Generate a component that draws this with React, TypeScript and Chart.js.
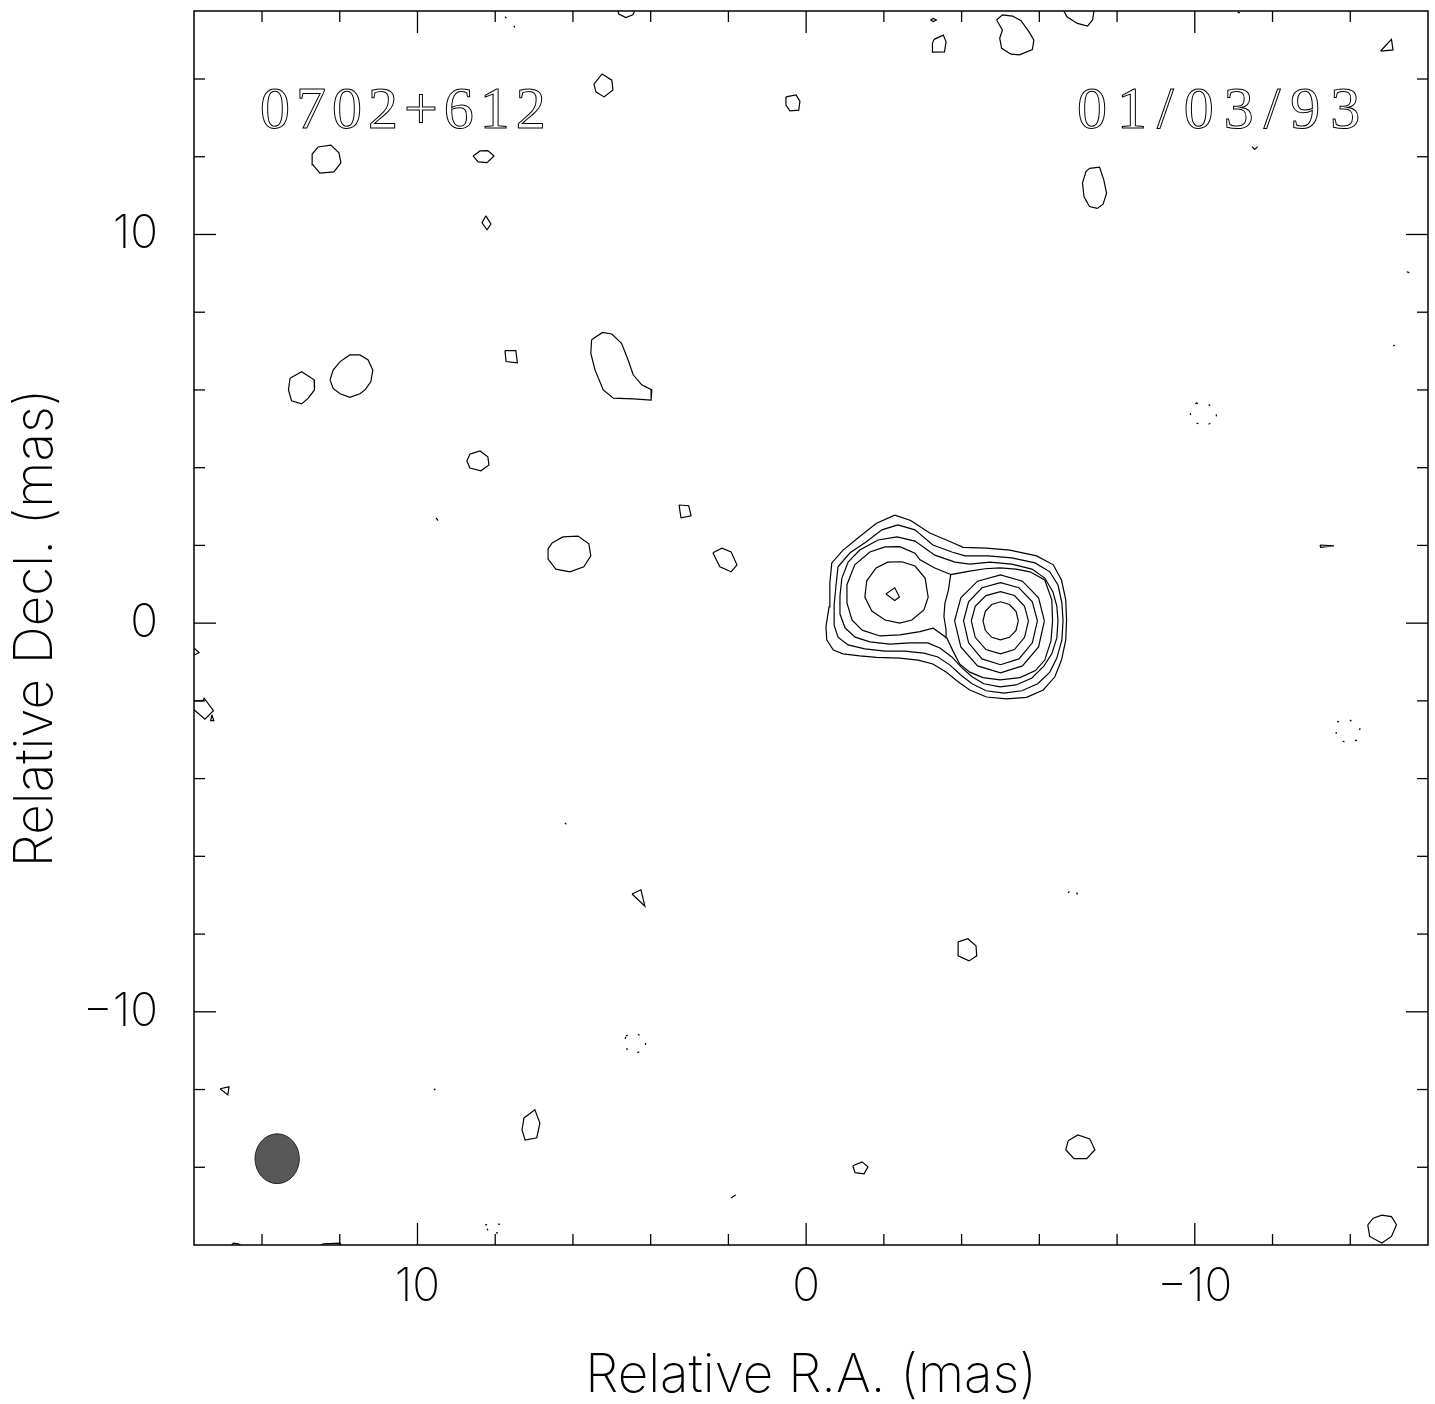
import React, { useEffect, useRef } from 'react';
import { Chart, registerables } from 'chart.js';

Chart.register(...registerables);

type P = [number, number];

// ---------- axes ----------
const X_MIN = -16;
const X_MAX = 15.75;
const Y_MIN = -16;
const Y_MAX = 15.75;
const MAJOR_TICKS = [-10, 0, 10];
const MINOR_TICKS = [-14, -12, -8, -6, -4, -2, 2, 4, 6, 8, 12, 14];

// ---------- texts ----------
const SOURCE_NAME = '0702+612';
const EPOCH = '01/03/93';
const X_TITLE = 'Relative R.A. (mas)';
const Y_TITLE = 'Relative Decl. (mas)';

// ---------- restoring beam (mas) ----------
const BEAM_CENTER: P = [13.61, -13.78];
const BEAM_SEMI_AXES: P = [0.57, 0.64];

// ---------- main source contours (mas) ----------
const CORE_L1: P[] = [[-2.28,2.78],[-2.69,2.64],[-3.18,2.32],[-3.70,2.10],[-4.04,1.95],[-4.64,1.93],[-5.24,1.88],[-5.93,1.73],[-6.36,1.50],[-6.57,1.11],[-6.68,0.60],[-6.70,0.08],[-6.68,-0.43],[-6.57,-0.95],[-6.40,-1.38],[-6.10,-1.72],[-5.67,-1.91],[-5.16,-1.95],[-4.64,-1.90],[-4.21,-1.72],[-3.91,-1.51],[-3.60,-1.26],[-3.26,-1.05],[-2.88,-0.95],[-2.41,-0.90],[-1.81,-0.88],[-1.38,-0.84],[-0.95,-0.79],[-0.70,-0.69],[-0.53,-0.43],[-0.51,-0.09],[-0.59,0.42],[-0.61,1.03],[-0.66,1.55],[-0.95,1.88],[-1.38,2.23],[-1.81,2.57]];
const CORE_L2: P[] = [[-2.36,2.53],[-2.80,2.40],[-3.26,2.01],[-3.75,1.83],[-4.09,1.73],[-4.68,1.73],[-5.29,1.68],[-5.89,1.55],[-6.27,1.32],[-6.48,0.98],[-6.58,0.52],[-6.61,0.06],[-6.58,-0.43],[-6.45,-0.90],[-6.27,-1.26],[-5.96,-1.56],[-5.55,-1.74],[-5.09,-1.80],[-4.63,-1.74],[-4.27,-1.56],[-4.01,-1.36],[-3.70,-1.08],[-3.39,-0.87],[-3.03,-0.77],[-2.54,-0.72],[-2.03,-0.72],[-1.51,-0.66],[-1.08,-0.56],[-0.82,-0.36],[-0.72,-0.05],[-0.72,0.47],[-0.77,0.98],[-0.82,1.45],[-1.13,1.81],[-1.54,2.09],[-1.95,2.40]];
const CORE_L3: P[] = [[-2.34,2.22],[-2.80,2.11],[-3.31,1.75],[-3.83,1.57],[-4.21,1.52],[-4.73,1.57],[-5.29,1.52],[-5.81,1.39],[-6.14,1.16],[-6.35,0.80],[-6.45,0.44],[-6.48,0.06],[-6.45,-0.38],[-6.32,-0.79],[-6.12,-1.10],[-5.81,-1.41],[-5.40,-1.59],[-4.99,-1.64],[-4.57,-1.56],[-4.27,-1.38],[-4.01,-1.15],[-3.75,-0.87],[-3.44,-0.64],[-3.13,-0.51],[-2.67,-0.51],[-2.16,-0.54],[-1.64,-0.48],[-1.26,-0.36],[-1.00,-0.12],[-0.87,0.24],[-0.87,0.70],[-0.92,1.16],[-1.08,1.57],[-1.38,1.88],[-1.85,2.14]];
// level 4: figure-eight through the saddle between the two components
const CORE_L4: P[] = [[-3.62,-0.38],[-3.60,-0.17],[-3.545,0.17],[-3.57,0.51],[-3.66,0.85],[-3.72,1.25],[-4.21,1.34],[-4.60,1.40],[-4.99,1.42],[-5.40,1.39],[-5.76,1.32],[-6.14,1.11],[-6.32,0.60],[-6.34,0.06],[-6.30,-0.45],[-6.14,-0.95],[-5.90,-1.22],[-5.50,-1.40],[-4.99,-1.46],[-4.55,-1.40],[-4.21,-1.26],[-3.95,-1.05],[-3.78,-0.72],[-3.62,-0.38],[-3.27,-0.13],[-2.93,-0.22],[-2.41,-0.30],[-1.90,-0.33],[-1.44,-0.18],[-1.18,0.08],[-1.05,0.52],[-1.05,0.99],[-1.25,1.50],[-1.64,1.83],[-2.03,1.96],[-2.41,1.97],[-2.80,1.80],[-2.93,1.63],[-3.31,1.42],[-3.72,1.25]];
const LEFT_L5: P[] = [[-2.46,1.58],[-2.80,1.47],[-3.06,1.16],[-3.14,0.67],[-3.03,0.34],[-2.72,0.08],[-2.41,0.00],[-2.03,0.08],[-1.69,0.31],[-1.51,0.67],[-1.56,1.09],[-1.80,1.42],[-2.10,1.57]];
const LEFT_L6: P[] = [[-2.05,0.75],[-2.28,0.91],[-2.40,0.67],[-2.28,0.58]];
const RIGHT_L5: P[] = [[-6.13,0.06],[-5.98,0.65],[-5.565,1.08],[-5.00,1.24],[-4.41,1.08],[-3.98,0.65],[-3.82,0.06],[-3.98,-0.61],[-4.41,-1.10],[-5.00,-1.28],[-5.565,-1.10],[-5.98,-0.61]];
const RIGHT_L6: P[] = [[-5.95,0.06],[-5.82,0.55],[-5.475,0.91],[-5.00,1.04],[-4.525,0.91],[-4.18,0.55],[-4.05,0.06],[-4.18,-0.505],[-4.525,-0.92],[-5.00,-1.07],[-5.475,-0.92],[-5.82,-0.505]];
const RIGHT_L7: P[] = [[-5.72,0.06],[-5.62,0.435],[-5.36,0.71],[-5.00,0.81],[-4.625,0.71],[-4.35,0.435],[-4.25,0.06],[-4.35,-0.365],[-4.625,-0.68],[-5.00,-0.79],[-5.36,-0.68],[-5.62,-0.365]];
const RIGHT_L8: P[] = [[-5.46,0.06],[-5.40,0.305],[-5.23,0.48],[-5.00,0.55],[-4.775,0.48],[-4.61,0.305],[-4.55,0.06],[-4.61,-0.185],[-4.775,-0.365],[-5.00,-0.43],[-5.23,-0.365],[-5.40,-0.185]];

// ---------- positive noise islands (mas) ----------
const ISLAND_01: P[] = [[-3.29,15.02],[-3.53,15.13],[-3.60,14.96],[-3.56,14.70],[-3.26,14.69],[-3.25,14.92]];
const ISLAND_02: P[] = [[-4.90,15.52],[-5.05,15.65],[-5.31,15.62],[-5.53,15.50],[-5.73,15.22],[-5.86,15.00],[-5.82,14.76],[-5.49,14.62],[-5.27,14.64],[-5.03,14.79],[-4.98,15.05],[-5.05,15.26]];
const ISLAND_03: P[] = [[-3.20,15.52],[-3.27,15.56],[-3.35,15.52],[-3.27,15.48]];
const ISLAND_04: P[] = [[-14.78,14.72],[-15.06,15.02],[-15.10,14.75]];
const ISLAND_05: P[] = [[5.46,13.87],[5.25,14.13],[5.00,13.97],[4.97,13.72],[5.20,13.54],[5.41,13.67]];
const ISLAND_06: P[] = [[0.52,13.54],[0.26,13.59],[0.16,13.43],[0.19,13.20],[0.42,13.18],[0.52,13.33]];
const ISLAND_07: P[] = [[12.56,12.25],[12.23,12.30],[12.02,12.10],[11.97,11.84],[12.15,11.61],[12.51,11.58],[12.69,11.79],[12.71,12.07]];
const ISLAND_08: P[] = [[8.57,12.02],[8.39,12.15],[8.19,12.16],[8.03,12.02],[8.21,11.85],[8.44,11.87]];
const ISLAND_09: P[] = [[8.24,10.48],[8.11,10.27],[8.21,10.12],[8.34,10.30]];
const ISLAND_10: P[] = [[-7.29,11.70],[-7.55,11.73],[-7.66,11.40],[-7.73,11.06],[-7.64,10.78],[-7.49,10.67],[-7.29,10.72],[-7.15,10.97],[-7.11,11.32],[-7.20,11.62]];
const ISLAND_11: P[] = [[5.52,7.29],[5.24,7.48],[5.00,7.44],[4.75,7.20],[4.58,6.77],[4.45,6.39],[4.23,6.13],[3.97,6.00],[3.99,5.74],[4.45,5.77],[4.96,5.79],[5.22,6.00],[5.43,6.51],[5.54,6.94]];
const ISLAND_12: P[] = [[7.75,7.01],[7.47,7.01],[7.43,6.70],[7.72,6.73]];
const ISLAND_13: P[] = [[12.25,6.26],[12.17,6.51],[11.99,6.73],[11.74,6.90],[11.48,6.90],[11.27,6.77],[11.15,6.51],[11.20,6.21],[11.35,6.00],[11.48,5.90],[11.74,5.81],[11.99,5.90],[12.17,6.04]];
const ISLAND_14: P[] = [[13.28,6.30],[12.98,6.47],[12.66,6.26],[12.65,6.00],[12.81,5.79],[12.98,5.64],[13.24,5.72],[13.32,6.00]];
const ISLAND_15: P[] = [[8.65,4.35],[8.39,4.43],[8.19,4.28],[8.16,4.07],[8.37,3.92],[8.65,3.99],[8.73,4.17]];
const ISLAND_16: P[] = [[3.27,3.04],[3.02,3.02],[2.96,2.76],[3.22,2.71]];
const ISLAND_17: P[] = [[6.54,2.06],[6.26,2.22],[5.87,2.24],[5.59,2.04],[5.54,1.73],[5.72,1.45],[6.08,1.32],[6.44,1.39],[6.64,1.65],[6.64,1.91]];
const ISLAND_18: P[] = [[2.40,1.81],[2.17,1.93],[1.93,1.83],[1.78,1.50],[1.93,1.32],[2.22,1.45]];
const ISLAND_19: P[] = [[-13.22,2.01],[-13.58,1.99],[-13.24,1.95]];
const ISLAND_20: P[] = [[15.29,-2.36],[15.24,-2.51],[15.32,-2.51]];
const ISLAND_21: P[] = [[4.48,-6.97],[4.25,-6.86],[4.15,-7.28]];
const ISLAND_22: P[] = [[-3.91,-8.20],[-4.16,-8.12],[-4.37,-8.30],[-4.39,-8.56],[-4.19,-8.69],[-3.91,-8.56]];
const ISLAND_23: P[] = [[15.08,-11.98],[14.85,-11.93],[14.88,-12.14]];
const ISLAND_24: P[] = [[7.26,-12.73],[6.98,-12.52],[6.85,-12.86],[6.93,-13.24],[7.23,-13.30],[7.31,-13.04]];
const ISLAND_25: P[] = [[-6.74,-13.32],[-6.99,-13.17],[-7.30,-13.27],[-7.43,-13.55],[-7.22,-13.78],[-6.89,-13.78],[-6.68,-13.55]];
const ISLAND_26: P[] = [[-1.20,-13.96],[-1.44,-13.86],[-1.59,-13.99],[-1.49,-14.17],[-1.26,-14.14]];
const ISLAND_27: P[] = [[-14.45,-15.48],[-14.59,-15.31],[-14.81,-15.23],[-15.06,-15.27],[-15.19,-15.48],[-15.06,-15.78],[-14.81,-15.95],[-14.50,-15.78]];

// open pieces (cut by the map edges, or tiny fragments)
const EDGE_01: P[] = [[4.87,15.85],[4.82,15.67],[4.64,15.58],[4.46,15.65],[4.36,15.85]];
const EDGE_02: P[] = [[-6.58,15.85],[-6.71,15.60],[-6.98,15.43],[-7.24,15.36],[-7.37,15.52],[-7.42,15.85]];
const EDGE_03: P[] = [[-11.10,15.72],[-11.16,15.70]];
const EDGE_04: P[] = [[-11.47,12.26],[-11.54,12.19],[-11.62,12.26]];
const EDGE_05: P[] = [[-15.45,9.04],[-15.52,9.02]];
const EDGE_06: P[] = [[9.52,2.71],[9.47,2.64]];
const EDGE_07: P[] = [[15.85,-0.55],[15.62,-0.76],[15.85,-0.87]];
const EDGE_08: P[] = [[15.85,-2.00],[15.52,-2.00],[15.49,-1.93],[15.25,-2.25],[15.47,-2.47],[15.75,-2.23],[15.85,-2.15]];
const EDGE_09: P[] = [[1.93,-14.79],[1.81,-14.71]];
const EDGE_10: P[] = [[14.82,-16.05],[14.74,-15.95],[14.61,-15.97],[14.48,-16.05]];
const EDGE_11: P[] = [[12.55,-16.05],[12.42,-15.97],[11.99,-15.95],[11.95,-16.05]];

// ---------- negative contours (mas) ----------
const NEG_01: P[] = [[7.75,15.60],[7.57,15.47],[7.49,15.31],[7.52,15.11]];
const NEG_02: P[] = [[-15.10,7.13],[-15.25,7.21],[-15.33,7.11]];
const NEG_03: P[] = [[-10.03,5.66],[-10.34,5.64],[-10.54,5.46],[-10.57,5.23],[-10.26,5.07],[-9.95,5.18],[-9.87,5.43]];
const NEG_04: P[] = [[-13.66,-2.54],[-13.99,-2.49],[-14.25,-2.70],[-14.20,-3.00],[-13.89,-3.08],[-13.63,-2.93]];
const NEG_05: P[] = [[6.21,-5.14],[6.03,-5.29]];
const NEG_06: P[] = [[-6.74,-6.94],[-6.86,-6.81],[-7.02,-7.02]];
const NEG_07: P[] = [[4.64,-10.62],[4.38,-10.54],[4.12,-10.72],[4.15,-10.98],[4.43,-11.08],[4.69,-10.90]];
const NEG_08: P[] = [[9.58,-12.01],[9.42,-11.88]];
const NEG_09: P[] = [[8.26,-15.48],[7.90,-15.46],[7.83,-15.65],[8.13,-15.74]];

const SOLID_CLOSED: P[][] = [CORE_L1, CORE_L2, CORE_L3, LEFT_L5, LEFT_L6, RIGHT_L5, RIGHT_L6, RIGHT_L7, RIGHT_L8,
  ISLAND_01, ISLAND_02, ISLAND_03, ISLAND_04, ISLAND_05, ISLAND_06, ISLAND_07, ISLAND_08, ISLAND_09, ISLAND_10,
  ISLAND_11, ISLAND_12, ISLAND_13, ISLAND_14, ISLAND_15, ISLAND_16, ISLAND_17, ISLAND_18, ISLAND_19, ISLAND_20,
  ISLAND_21, ISLAND_22, ISLAND_23, ISLAND_24, ISLAND_25, ISLAND_26, ISLAND_27];
const SOLID_OPEN: P[][] = [CORE_L4, EDGE_01, EDGE_02, EDGE_03, EDGE_04, EDGE_05, EDGE_06, EDGE_07, EDGE_08, EDGE_09, EDGE_10, EDGE_11];
const DOTTED_CLOSED: P[][] = [NEG_03, NEG_04, NEG_07, NEG_09];
const DOTTED_OPEN: P[][] = [NEG_01, NEG_02, NEG_05, NEG_06, NEG_08];

const TICK_FONT = '"Inter", "DejaVu Sans", sans-serif';

function fmt(v: number): string {
  if (v < 0) return '\u2212' + Math.abs(v);
  return String(v);
}

function noPad(s: any) {
  s.paddingTop = 0;
  s.paddingBottom = 0;
  s.paddingLeft = 0;
  s.paddingRight = 0;
}

const decorPlugin = {
  id: 'mapDecor',
  afterDatasetsDraw(chart: any) {
    const { ctx, chartArea: a, scales } = chart;
    const x = scales.x;
    const y = scales.y;
    ctx.save();
    // beam
    const cx = x.getPixelForValue(BEAM_CENTER[0]);
    const cy = y.getPixelForValue(BEAM_CENTER[1]);
    const rx = Math.abs(x.getPixelForValue(BEAM_CENTER[0] + BEAM_SEMI_AXES[0]) - cx);
    const ry = Math.abs(y.getPixelForValue(BEAM_CENTER[1] + BEAM_SEMI_AXES[1]) - cy);
    ctx.beginPath();
    ctx.ellipse(cx, cy, rx, ry, 0, 0, Math.PI * 2);
    ctx.fillStyle = '#585858';
    ctx.fill();
    ctx.lineWidth = 1;
    ctx.strokeStyle = '#222';
    ctx.stroke();

    // frame
    ctx.strokeStyle = '#000';
    ctx.lineWidth = 1.5;
    ctx.strokeRect(a.left, a.top, a.right - a.left, a.bottom - a.top);

    // inward ticks on all four sides
    ctx.lineWidth = 1.3;
    const seg = (x1: number, y1: number, x2: number, y2: number) => {
      ctx.beginPath();
      ctx.moveTo(x1, y1);
      ctx.lineTo(x2, y2);
      ctx.stroke();
    };
    const tick = (v: number, len: number) => {
      const px = x.getPixelForValue(v);
      seg(px, a.bottom, px, a.bottom - len);
      seg(px, a.top, px, a.top + len);
      const py = y.getPixelForValue(v);
      seg(a.left, py, a.left + len, py);
      seg(a.right, py, a.right - len, py);
    };
    MAJOR_TICKS.forEach((v) => tick(v, 22));
    MINOR_TICKS.forEach((v) => tick(v, 11));

    // labels inside the map
    ctx.fillStyle = '#000';
    ctx.strokeStyle = '#000';
    ctx.lineWidth = 1;
    ctx.font = '60px "Liberation Serif", "DejaVu Serif", serif';
    ctx.textBaseline = 'alphabetic';
    ctx.textAlign = 'left';
    (ctx as any).letterSpacing = '6px';
    ctx.strokeText(SOURCE_NAME, a.left + 66, a.top + 117);
    (ctx as any).letterSpacing = '10px';
    ctx.strokeText(EPOCH, a.left + 883, a.top + 117);
    (ctx as any).letterSpacing = '0px';
    ctx.restore();
  },
};

export default function App() {
  const ref = useRef<HTMLCanvasElement | null>(null);
  useEffect(() => {
    if (!ref.current) return;
    const toPts = (arr: P[], close: boolean) => {
      const pts = arr.map(([px, py]) => ({ x: px, y: py }));
      if (close) pts.push({ x: arr[0][0], y: arr[0][1] });
      return pts;
    };
    const base = { showLine: true, borderColor: '#000', borderWidth: 1.2, pointRadius: 0, fill: false, tension: 0 };
    const datasets: any[] = [];
    SOLID_CLOSED.forEach((c) => datasets.push({ ...base, data: toPts(c, true) }));
    SOLID_OPEN.forEach((c) => datasets.push({ ...base, data: toPts(c, false) }));
    DOTTED_CLOSED.forEach((c) => datasets.push({ ...base, borderDash: [2, 11], data: toPts(c, true) }));
    DOTTED_OPEN.forEach((c) => datasets.push({ ...base, borderDash: [2, 11], data: toPts(c, false) }));

    const tickFont = { family: TICK_FONT, size: 46, weight: '200' as any, lineHeight: 1 };
    const titleFont = { family: TICK_FONT, size: 53, weight: '200' as any, lineHeight: 1 };

    const chart = new Chart(ref.current, {
      type: 'scatter',
      data: { datasets },
      options: {
        animation: false,
        responsive: false,
        devicePixelRatio: 1,
        events: [],
        layout: { padding: { top: 11, right: 7, left: 0, bottom: 0 } },
        plugins: { legend: { display: false }, tooltip: { enabled: false } },
        scales: {
          x: {
            type: 'linear',
            reverse: true,
            min: X_MIN,
            max: X_MAX,
            grid: { display: false, drawTicks: false },
            border: { display: false },
            afterBuildTicks: (s: any) => { s.ticks = MAJOR_TICKS.map((v) => ({ value: v })); },
            afterFit: (s: any) => { s.height = 159; noPad(s); },
            ticks: { padding: 19, font: tickFont, color: '#000', maxRotation: 0, autoSkip: false, callback: (v: any) => fmt(Number(v)) },
            title: { display: true, text: X_TITLE, font: titleFont, color: '#000', padding: { top: 0, bottom: 1 } },
          },
          y: {
            type: 'linear',
            min: Y_MIN,
            max: Y_MAX,
            grid: { display: false, drawTicks: false },
            border: { display: false },
            afterBuildTicks: (s: any) => { s.ticks = MAJOR_TICKS.map((v) => ({ value: v })); },
            afterFit: (s: any) => { s.width = 194; noPad(s); },
            ticks: { padding: 36, font: tickFont, color: '#000', autoSkip: false, callback: (v: any) => fmt(Number(v)) },
            title: { display: true, text: Y_TITLE, font: titleFont, color: '#000', padding: { top: 10, bottom: 0 } },
          },
        },
      } as any,
      plugins: [decorPlugin],
    });
    return () => chart.destroy();
  }, []);

  return (
    <div style={{ position: 'fixed', left: 0, top: 0, width: 1435, height: 1404, background: '#fff' }}>
      <canvas ref={ref} width={1435} height={1404} style={{ display: 'block', width: 1435, height: 1404 }} />
    </div>
  );
}
